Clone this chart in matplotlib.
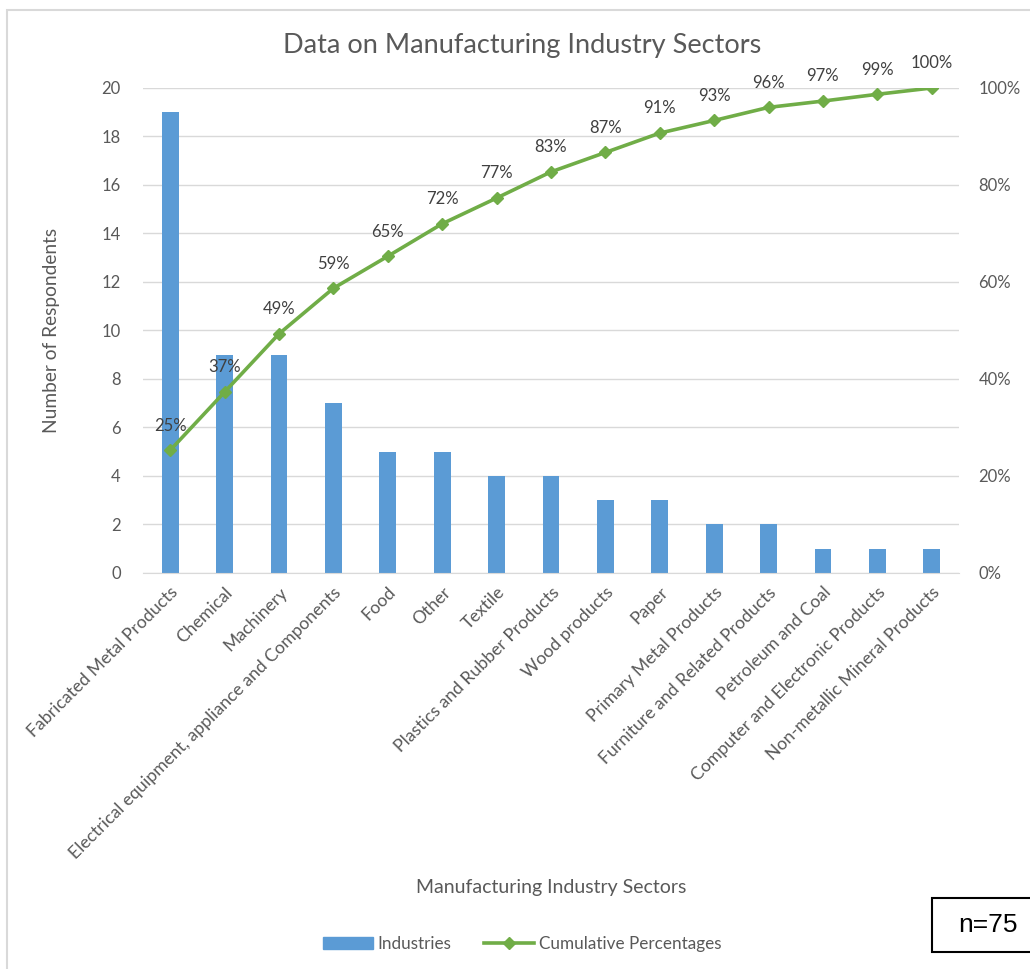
import matplotlib.pyplot as plt
from matplotlib.patches import Rectangle
from matplotlib.lines import Line2D
from matplotlib.ticker import FuncFormatter

plt.rcParams['font.family'] = ['Lato', 'DejaVu Sans']

# data
sectors = ['Fabricated Metal Products', 'Chemical', 'Machinery',
           'Electrical equipment, appliance and Components', 'Food', 'Other',
           'Textile', 'Plastics and Rubber Products', 'Wood products', 'Paper',
           'Primary Metal Products', 'Furniture and Related Products',
           'Petroleum and Coal', 'Computer and Electronic Products',
           'Non-metallic Mineral Products']
industries = [19, 9, 9, 7, 5, 5, 4, 4, 3, 3, 2, 2, 1, 1, 1]
cum_pct = [25.3, 37.3, 49.3, 58.7, 65.3, 72.0, 77.3, 82.7, 86.7, 90.7,
           93.3, 96.0, 97.3, 98.7, 100.0]

grey = '#595959'
blue = '#5B9BD5'
green = '#70AD47'

fig = plt.figure(figsize=(10.3, 9.69), dpi=100)

# light outer border like the excel chart area
fig.add_artist(Rectangle((0.007, -0.01), 1.2, 0.9995 - 0.0103 + 0.01,
                         transform=fig.transFigure, fill=False,
                         edgecolor='#D9D9D9', linewidth=1.5))

ax = fig.add_axes([0.1388, 0.4087, 0.7922, 0.5005])
x = list(range(len(sectors)))
ax.bar(x, industries, width=0.31, color=blue, zorder=2)
ax.set_xlim(-0.5, len(sectors) - 0.5)
ax.set_ylim(0, 20)
ax.set_yticks(range(0, 21, 2))
ax.grid(axis='y', color='#D9D9D9', linewidth=1, zorder=0)
ax.set_axisbelow(True)
for s in ['top', 'right', 'left']:
    ax.spines[s].set_visible(False)
ax.spines['bottom'].set_color('#D9D9D9')
ax.tick_params(axis='both', length=0, colors=grey, labelsize=12)
ax.tick_params(axis='y', pad=16)
ax.set_xticks(x)
ax.set_xticklabels(sectors, rotation=45, ha='right', rotation_mode='anchor',
                   fontsize=12.7)
ax.tick_params(axis='x', pad=8)
ax.set_ylabel('Number of Respondents', color=grey, fontsize=13.8, labelpad=30)

ax2 = ax.twinx()
ax2.plot(x, cum_pct, color=green, linewidth=2.6, marker='D', markersize=6.5,
         zorder=3)
ax2.set_ylim(0, 100)
ax2.set_yticks(range(0, 101, 20))
ax2.yaxis.set_major_formatter(FuncFormatter(lambda v, p: f'{v:.0f}%'))
for s in ['top', 'right', 'left', 'bottom']:
    ax2.spines[s].set_visible(False)
ax2.tick_params(axis='y', length=0, colors=grey, labelsize=12, pad=14)
for xi, v in zip(x, cum_pct):
    ax2.annotate(f'{v:.0f}%', (xi, v), xytext=(0, 12), textcoords='offset points',
                 ha='center', va='bottom', color='#404040', fontsize=12)

fig.text(0.507, 0.953, 'Data on Manufacturing Industry Sectors', ha='center',
         va='center', color=grey, fontsize=19.5)
fig.text(0.535, 0.0846, 'Manufacturing Industry Sectors', ha='center',
         va='center', color=grey, fontsize=14)

handles = [Rectangle((0, 0), 1, 1, color=blue),
           Line2D([], [], color=green, linewidth=2.6, marker='D', markersize=6.5)]
fig.legend(handles, ['Industries', 'Cumulative Percentages'], loc='center',
           bbox_to_anchor=(0.507, 0.026), ncol=2, frameon=False, fontsize=12.3,
           labelcolor=grey, handlelength=2.9, handletextpad=0.3, columnspacing=1.9)

# n=75 box running off the right edge
fig.add_artist(Rectangle((932 / 1030, 1 - 952 / 969), 0.2, 54 / 969,
                         transform=fig.transFigure, facecolor='white',
                         edgecolor='black', linewidth=1.5))
fig.text(988 / 1030, 1 - 925 / 969, 'n=75', ha='center', va='center',
         fontsize=19, family='Liberation Sans')

fig.savefig('out.png', dpi=100, facecolor='white')
